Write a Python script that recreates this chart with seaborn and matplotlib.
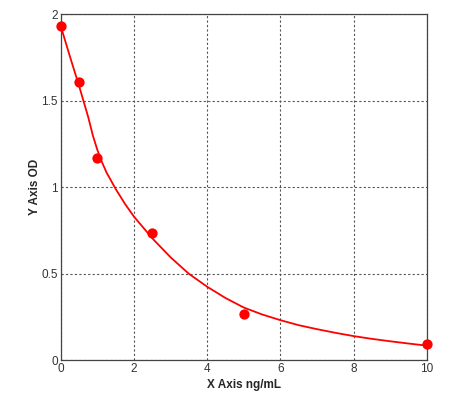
import pandas as pd
import matplotlib
matplotlib.use('Agg')
import matplotlib.pyplot as plt
import seaborn as sns

# standard points
conc = [0, 0.5, 1, 2.5, 5, 10]
od = [1.93, 1.61, 1.168, 0.738, 0.268, 0.092]

# fitted curve
curve_x = [0, 0.25, 0.5, 0.75, 0.875, 1, 1.125, 1.25, 1.5, 1.75, 2, 2.5, 3,
           3.5, 4, 4.5, 5, 5.5, 6, 6.5, 7, 7.5, 8, 8.5, 9, 9.5, 10]
curve_y = [1.93, 1.755, 1.585, 1.405, 1.30, 1.215, 1.145, 1.085, 0.99, 0.905,
           0.83, 0.705, 0.595, 0.50, 0.425, 0.36, 0.305, 0.265, 0.232, 0.203,
           0.18, 0.159, 0.14, 0.124, 0.11, 0.097, 0.085]

x_ticks = [0, 2, 4, 6, 8, 10]
y_ticks = [0, 0.5, 1, 1.5, 2]
y_tick_labels = ['0', '0.5', '1', '1.5', '2']

sns.set_style('white')
plt.rcParams['font.family'] = ['Liberation Sans', 'DejaVu Sans']

df_pts = pd.DataFrame({'x': conc, 'y': od})
df_curve = pd.DataFrame({'x': curve_x, 'y': curve_y})

fig = plt.figure(figsize=(4.71, 3.97), dpi=100)
ax = fig.add_axes([0.129, 0.0924, 0.777, 0.8723])

sns.lineplot(data=df_curve, x='x', y='y', color='#ff0000', linewidth=1.3,
             ax=ax, zorder=3)
sns.scatterplot(data=df_pts, x='x', y='y', color='#ff0000', s=55,
                edgecolor='#ff0000', linewidth=0, ax=ax, zorder=4, clip_on=False)

ax.set_xlim(0, 10)
ax.set_ylim(0, 2)
ax.set_xticks(x_ticks)
ax.set_yticks(y_ticks)
ax.set_yticklabels(y_tick_labels)

ax.grid(True, color='#555555', linestyle=(0, (2, 2)), linewidth=0.8)
ax.set_axisbelow(True)

for sp in ax.spines.values():
    sp.set_visible(True)
    sp.set_color('#444444')
    sp.set_linewidth(0.9)

ax.tick_params(axis='both', length=0, pad=2, labelsize=8.5, labelcolor='#333333')

ax.set_xlabel('X Axis ng/mL', fontsize=8.5, fontweight='bold', labelpad=3)
ax.set_ylabel('Y Axis OD', fontsize=8.5, fontweight='bold', labelpad=0)

plt.savefig('out.png', dpi=100)
